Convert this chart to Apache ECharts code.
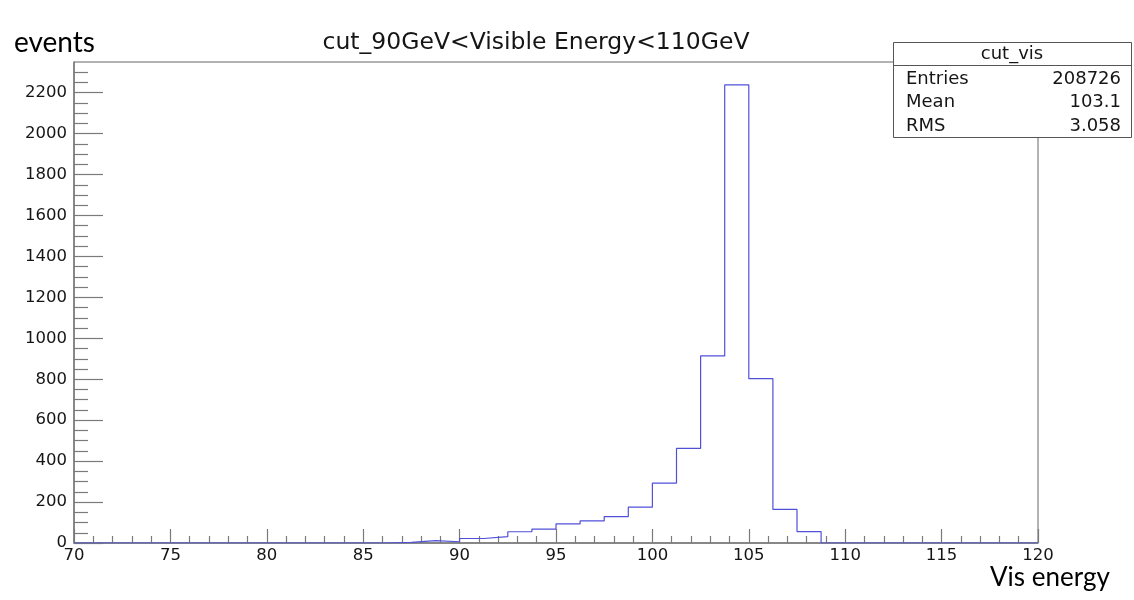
<!DOCTYPE html>
<html>
<head>
<meta charset="utf-8">
<script src="https://cdn.jsdelivr.net/npm/echarts@6/dist/echarts.min.js"></script>
<style>html,body{margin:0;padding:0;background:#fff}#c{width:1134px;height:600px}</style>
</head>
<body>
<div id="c"></div>
<script>
// Histogram: 40 bins of width 1.25 from 70 to 120
const binEdges = [70,71.25,72.5,73.75,75,76.25,77.5,78.75,80,81.25,82.5,83.75,85,86.25,87.5,88.75,90,91.25,92.5,93.75,95,96.25,97.5,98.75,100,101.25,102.5,103.75,105,106.25,107.5,108.75,110,111.25,112.5,113.75,115,116.25,117.5,118.75,120];
const binCounts = [0,0,0,0,0,0,0,0,0,0,0,0,0,3,12,6,22,31,55,68,93,108,129,175,293,462,914,2238,803,164,56,0,0,0,0,0,0,0,0,0];
const xTickLabels = [70,75,80,85,90,95,100,105,110,115,120];
const yTickLabels = [0,200,400,600,800,1000,1200,1400,1600,1800,2000,2200];
const yMinorTicks = [50,100,150,250,300,350,450,500,550,650,700,750,850,900,950,1050,1100,1150,1250,1300,1350,1450,1500,1550,1650,1700,1750,1850,1900,1950,2050,2100,2150,2250,2300];
const statsTitle = 'cut_vis';
const statsNames = ['Entries','Mean','RMS'];
const statsValues = ['208726','103.1','3.058'];
const title = 'cut_90GeV<Visible Energy<110GeV';

const stepData = binCounts.map((v,i)=>[binEdges[i], v]);
stepData.push([binEdges[binEdges.length-1], 0]);

const chart = echarts.init(document.getElementById('c'), null, {renderer:'canvas'});
const axCol = '#7a7a7a';
const txtCol = '#151515';
const lblFont = {fontFamily:'DejaVu Sans', fontSize:16.5, color:txtCol};

const graphics = [
  {type:'text', z:100, style:{x:536, y:31, text:title, font:'23.5px "DejaVu Sans"', fill:txtCol, textAlign:'center', textVerticalAlign:'alphabetic'}},
  {type:'text', z:100, style:{x:14, y:57, text:'events', font:'28px Lato', fill:'#000', textVerticalAlign:'bottom'}},
  {type:'text', z:100, style:{x:990, y:591, text:'Vis energy', font:'26px Lato', fill:'#000', textVerticalAlign:'bottom'}},
  {type:'rect', z:100, shape:{x:893.5, y:42.5, width:238, height:95}, style:{fill:'#fff', stroke:'#555', lineWidth:1}},
  {type:'line', z:101, shape:{x1:893.5, y1:65.5, x2:1131.5, y2:65.5}, style:{stroke:'#555', lineWidth:1}},
  {type:'text', z:101, style:{x:1012, y:54, text:statsTitle, font:'18px "DejaVu Sans"', fill:txtCol, textAlign:'center', textVerticalAlign:'middle'}}
];
statsNames.forEach((n,i)=>{
  const y = 79 + i*23.5;
  graphics.push({type:'text', z:101, style:{x:906, y:y, text:n, font:'18px "DejaVu Sans"', fill:txtCol, textAlign:'left', textVerticalAlign:'middle'}});
  graphics.push({type:'text', z:101, style:{x:1121, y:y, text:statsValues[i], font:'18px "DejaVu Sans"', fill:txtCol, textAlign:'right', textVerticalAlign:'middle'}});
});

chart.setOption({
  animation:false,
  backgroundColor:'#fff',
  grid:{left:74, right:96, top:62, bottom:57, show:true, borderColor:'#666', borderWidth:1, backgroundColor:'transparent', containLabel:false, outerBoundsMode:'none'},
  xAxis:{
    type:'value', min:70, max:120, interval:5,
    axisLine:{show:true, onZero:false, lineStyle:{color:axCol, width:1.5}},
    axisTick:{show:true, inside:true, length:14, lineStyle:{color:axCol, width:1.2}},
    minorTick:{show:true, splitNumber:5, length:7, lineStyle:{color:axCol, width:1.2}},
    axisLabel:{show:true, margin:4, formatter:v=>String(v), ...lblFont, showMinLabel:true, showMaxLabel:true},
    splitLine:{show:false}, minorSplitLine:{show:false}
  },
  yAxis:[
    {
      type:'value', min:0, max:2350, position:'left',
      axisLine:{show:true, onZero:false, lineStyle:{color:axCol, width:1.5}},
      axisTick:{show:true, inside:true, length:29, customValues:yTickLabels, lineStyle:{color:axCol, width:1.2}},
      axisLabel:{show:true, margin:7, customValues:yTickLabels, formatter:v=>String(v), ...lblFont},
      splitLine:{show:false}
    },
    {
      type:'value', min:0, max:2350, position:'left', offset:0,
      axisLine:{show:false},
      axisTick:{show:true, inside:true, length:14, customValues:yMinorTicks, lineStyle:{color:axCol, width:1.2}},
      axisLabel:{show:false},
      splitLine:{show:false}
    }
  ],
  series:[{
    type:'line', step:'end', data:stepData, yAxisIndex:0,
    symbol:'none', clip:true,
    lineStyle:{color:'#5050d8', width:1.2}
  }],
  graphic:graphics
});
</script>
</body>
</html>
